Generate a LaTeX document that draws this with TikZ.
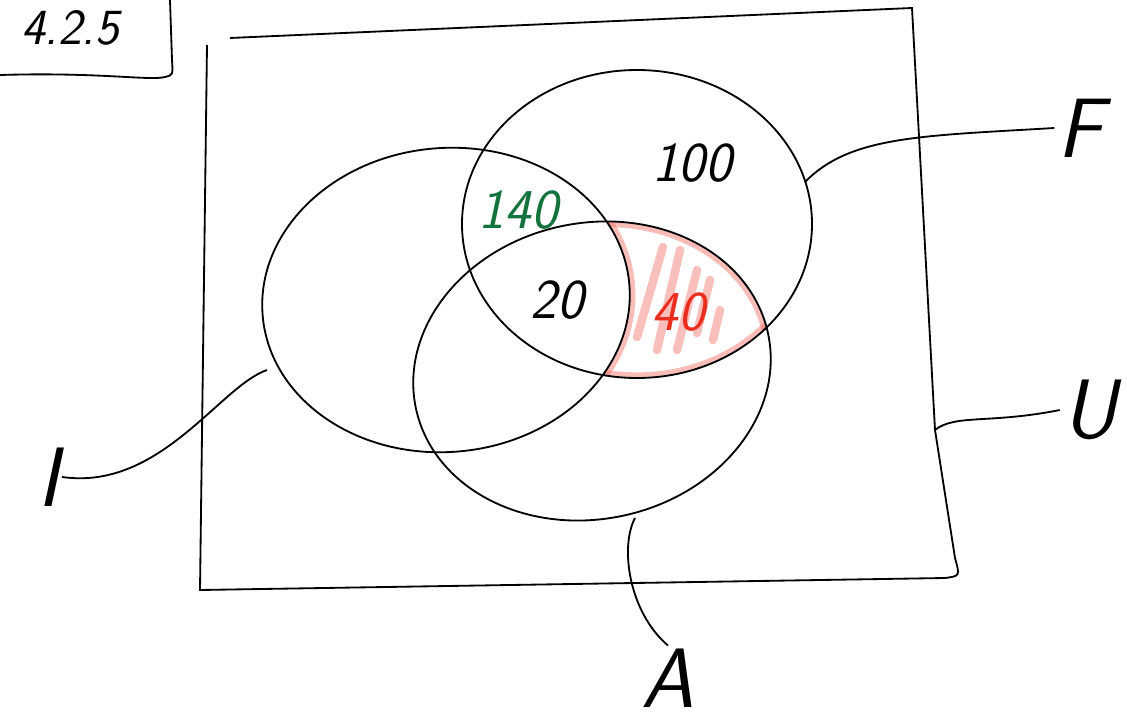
\documentclass[tikz,border=0pt]{standalone}
\usepackage{tikz}
\definecolor{countgreen}{RGB}{20,115,60}
\definecolor{countred}{RGB}{235,45,30}
\tikzset{
  venn outline/.style={draw=black,line width=1.3pt},
  venn leader/.style={draw=black,line width=1.3pt},
  venn label/.style={font=\fontsize{60}{60}\selectfont\sffamily\slshape,inner sep=2pt},
  venn count/.style={font=\fontsize{40}{40}\selectfont\sffamily\slshape},
  venn band/.style={draw=countred!70,line width=8pt,opacity=0.45},
  venn hatch/.style={draw=countred!60,line width=6pt,line cap=round,opacity=0.5}
}

\begin{document}
\begin{tikzpicture}[x=0.025cm,y=0.025cm]
  \useasboundingbox (0,0) rectangle (1127,726);

  % exercise tag
  \draw[venn outline] (0,651) .. controls (100,654) and (150,645) .. (165,649) .. controls (173,651) .. (172,666) -- (170,726);
  \node[venn count,font=\fontsize{36}{36}\selectfont\sffamily\slshape] (tag) at (70,698) {4.2.5};

  % universe
  \draw[venn outline] (230,688) -- (912,718) -- (935,296) -- (955,168) .. controls (960,150) .. (945,148) -- (200,136) -- (207,681);

  % F and A, but not I
  \begin{scope}[even odd rule]
    \clip (637,502) ellipse [x radius=175,y radius=154];
    \clip (592,355) ellipse [x radius=180,y radius=148,rotate=12];
    \clip (0,0) rectangle (1127,726) (446,426) ellipse [x radius=184,y radius=152,rotate=5];
    \draw[venn band] (637,502) ellipse [x radius=175,y radius=154];
    \draw[venn band] (592,355) ellipse [x radius=180,y radius=148,rotate=12];
    \draw[venn band] (446,426) ellipse [x radius=184,y radius=152,rotate=5];
    \foreach \xa/\ya/\xb/\yb in {663/479/637/389, 680/476/657/376, 697/456/677/376, 710/446/697/393, 720/416/713/386}
      \draw[venn hatch] (\xa,\ya) -- (\xb,\yb);
  \end{scope}

  % sets
  \draw[venn outline] (446,426) ellipse [x radius=184,y radius=152,rotate=5];
  \draw[venn outline] (637,502) ellipse [x radius=175,y radius=154];
  \draw[venn outline] (592,355) ellipse [x radius=180,y radius=148,rotate=12];

  % counts
  \node[venn count,text=countgreen] (n140) at (518,516) {140};
  \node[venn count] (n100) at (692,563) {100};
  \node[venn count] (n20) at (557,426) {20};
  \node[venn count,text=countred] (n40) at (678,414) {40};

  % names
  \node[venn label] (labF) at (1080,598) {F};
  \node[venn label] (labU) at (1090,316) {U};
  \node[venn label] (labI) at (48,249) {I};
  \node[venn label] (labA) at (668,48) {A};

  \coordinate (fTip) at (805,544);
  \coordinate (uTip) at (935,296);
  \coordinate (iTip) at (267,356);
  \coordinate (aTip) at (635,208);

  \draw[venn leader] (fTip) .. controls (850,590) and (920,590) .. (labF.west);
  \draw[venn leader] (uTip) .. controls (955,312) and (990,302) .. (labU.west);
  \draw[venn leader] (iTip) .. controls (220,340) and (160,235) .. (labI.east);
  \draw[venn leader] (aTip) .. controls (620,180) and (628,115) .. (labA.north);
\end{tikzpicture}
\end{document}
